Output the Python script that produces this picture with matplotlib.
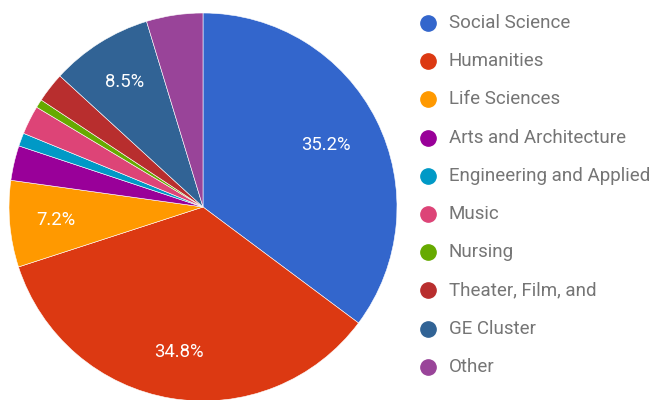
import matplotlib
matplotlib.use("Agg")
import matplotlib.pyplot as plt
from matplotlib.lines import Line2D

categories = ["Social Science", "Humanities", "Life Sciences", "Arts and Architecture",
              "Engineering and Applied", "Music", "Nursing", "Theater, Film, and",
              "GE Cluster", "Other"]
values = [35.2, 34.8, 7.2, 2.9, 1.1, 2.4, 0.7, 2.5, 8.5, 4.7]
colors = ["#3366cc", "#dc3912", "#ff9900", "#990099", "#0099c6",
          "#dd4477", "#66aa00", "#b82e2e", "#316395", "#994499"]

plt.rcParams['font.family'] = ['Roboto', 'DejaVu Sans']

W, H = 657, 400
fig = plt.figure(figsize=(W / 100, H / 100), dpi=100)
cx, cy, R = 203, 207, 194
ax = fig.add_axes([(cx - R) / W, (H - cy - R) / H, 2 * R / W, 2 * R / H])

def fmt(p):
    return f"{p:.1f}%" if p >= 5 else ""

wedges, texts, autotexts = ax.pie(values, colors=colors, startangle=90, counterclock=False,
                                  radius=1, autopct=fmt, pctdistance=0.76,
                                  wedgeprops=dict(edgecolor="white", linewidth=0.4),
                                  textprops=dict(color="white", fontsize=13.3))
# Social Science label sits a little closer to the centre
x, y = autotexts[0].get_position()
autotexts[0].set_position((x * 0.71 / 0.76, y * 0.71 / 0.76))
ax.set_xlim(-1, 1)
ax.set_ylim(-1, 1)
ax.set_aspect('auto')
ax.axis('off')

lx_marker, lx_text, ly0, dy = 428, 449, 23, 38.2
for i, (cat, col) in enumerate(zip(categories, colors)):
    ypix = ly0 + i * dy
    fig.add_artist(Line2D([lx_marker / W], [1 - ypix / H], marker='o', markersize=11,
                          color=col, linestyle='none', transform=fig.transFigure))
    fig.text(lx_text / W, 1 - ypix / H, cat, fontsize=13.5, color="#757575",
             va='center', ha='left')

fig.savefig("out.png", dpi=100)
